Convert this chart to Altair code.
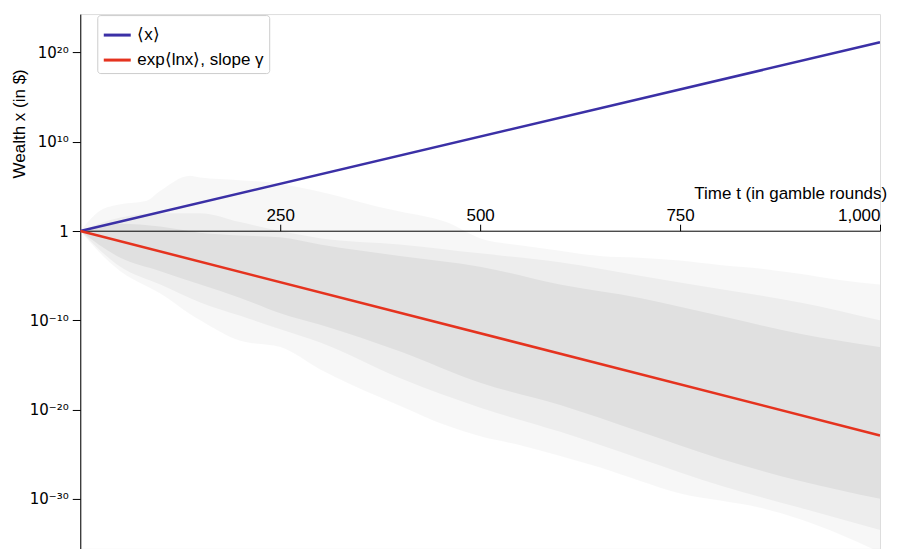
import altair as alt
import pandas as pd

# ---- values (log10 of wealth) ----
# expectation value <x> and time-average exp<ln x>
line_t = [0, 1000]
mean_log = [0.0, 21.15]
tavg_log = [0.0, -22.9]
series_names = ["⟨x⟩", "exp⟨lnx⟩, slope γ"]

# faint outer envelope of the simulated trajectories
outer_t = [0, 25, 50, 83, 100, 137, 150, 200, 250, 300, 374, 400, 458, 500,
           550, 600, 650, 700, 750, 800, 850, 900, 950, 1000]
outer_hi = [0, 2.3, 3.0, 3.4, 4.5, 6.2, 6.0, 5.7, 5.3, 4.4, 2.7, 2.2, 1.0, -0.8,
            -1.6, -2.2, -2.8, -3.0, -3.3, -3.8, -4.2, -4.8, -5.5, -6.0]
outer_lo = [0, -2.5, -4.5, -6.2, -7.0, -9.3, -10.0, -12.3, -13.0, -15.5, -18.6, -19.6, -21.8, -23.0,
            -24.0, -25.2, -26.5, -28.0, -29.4, -30.2, -31.0, -32.3, -34.0, -36.0]

# moderately dense part of the cloud
mid_t = [0, 50, 100, 150, 200, 250, 300, 400, 500, 600, 700, 800, 900, 1000]
mid_hi = [0, 1.5, 2.0, 2.0, 1.0, 0.0, -0.8, -1.5, -2.5, -3.5, -5.0, -6.5, -8.0, -10.0]
mid_lo = [0, -4.0, -6.0, -8.0, -9.5, -11.0, -12.5, -16.5, -19.8, -22.5, -25.5, -28.5, -31.0, -33.5]

# densest core of the cloud
core_t = [0, 50, 100, 150, 200, 250, 300, 400, 500, 600, 700, 800, 900, 1000]
core_hi = [0, 0.8, 0.5, -0.2, -0.5, -0.7, -1.5, -2.8, -4.0, -6.0, -7.5, -9.5, -11.5, -13.0]
core_lo = [0, -3.0, -4.5, -6.0, -7.5, -9.2, -10.5, -13.5, -17.0, -19.5, -22.5, -25.5, -28.0, -30.0]

x_ticks = [250, 500, 750, 1000]
y_ticks = [1e-30, 1e-20, 1e-10, 1, 1e10, 1e20]

# ---- tables ----
def band(ts, lo, hi):
    return pd.DataFrame({"t": ts, "lo": [10.0 ** v for v in lo], "hi": [10.0 ** v for v in hi]})

outer_df = band(outer_t, outer_lo, outer_hi)
mid_df = band(mid_t, mid_lo, mid_hi)
core_df = band(core_t, core_lo, core_hi)
lines_df = pd.DataFrame({
    "t": line_t + line_t,
    "w": [10.0 ** v for v in mean_log] + [10.0 ** v for v in tavg_log],
    "series": [series_names[0]] * 2 + [series_names[1]] * 2,
})

FONT = "Liberation Sans"
H = 535
PX_PER_DEC = 8.93
y_top = 24.3
y_bot = y_top - H / PX_PER_DEC

x_scale = alt.Scale(domain=[0, 1000], nice=False)
y_scale = alt.Scale(type="log", domain=[10 ** y_bot, 10 ** y_top], nice=False)

x_axis = alt.Axis(
    orient="top", offset=-216.7, values=x_ticks, format=",d",
    title="Time t (in gamble rounds)", titleFont=FONT, titleFontSize=17,
    titleFontWeight="normal", titleColor="black",
    titleAlign="right", titleAnchor="end", titleX=806.7, titleY=-32.7,
    titleBaseline="alphabetic",
    labelFont=FONT, labelFontSize=17, labelColor="black",
    labelBaseline="alphabetic", labelPadding=3.5,
    tickSize=6.5, tickColor="black", domainColor="black", grid=False,
)
y_axis = alt.Axis(
    values=y_ticks,
    labelExpr=("datum.value < 1e-25 ? '10⁻³⁰' : datum.value < 1e-15 ? '10⁻²⁰' : "
               "datum.value < 1e-5 ? '10⁻¹⁰' : datum.value < 1e5 ? '1' : "
               "datum.value < 1e15 ? '10¹⁰' : '10²⁰'"),
    title="Wealth x (in $)", titleFont=FONT, titleFontSize=17,
    titleFontWeight="normal", titleColor="black",
    titleX=-60.3, titleY=109.3, titleAngle=270, titleAlign="center",
    titleBaseline="middle",
    labelFont="DejaVu Sans", labelFontSize=15, labelColor="black", labelPadding=4,
    tickSize=8, tickColor="black", domainColor="black", grid=False,
)

def xenc():
    return alt.X("t:Q", scale=x_scale, axis=x_axis)

def area_layer(df, opacity):
    return alt.Chart(df).mark_area(color="black", opacity=opacity, clip=True,
                                   interpolate="monotone").encode(
        x=xenc(),
        y=alt.Y("lo:Q", scale=y_scale, axis=y_axis),
        y2="hi:Q",
    )

outer = area_layer(outer_df, 0.03)
mid = area_layer(mid_df, 0.04)
core = area_layer(core_df, 0.05)

lines = alt.Chart(lines_df).mark_line(strokeWidth=2.5, clip=True).encode(
    x=xenc(),
    y=alt.Y("w:Q", scale=y_scale, axis=y_axis),
    color=alt.Color(
        "series:N",
        scale=alt.Scale(domain=series_names, range=["#3b30a6", "#e5331f"]),
        legend=alt.Legend(
            title=None, orient="none", legendX=17, legendY=1,
            symbolType="stroke", symbolSize=729, symbolStrokeWidth=3,
            labelFont=FONT, labelFontSize=17, labelColor="black", labelOffset=5,
            rowPadding=2, padding=5, strokeColor="#cccccc", cornerRadius=3,
            fillColor="white",
        ),
    ),
)

chart = alt.layer(outer, mid, core, lines).properties(
    width=800, height=H,
    autosize=alt.AutoSizeParams(type="none"),
    padding={"left": 72.3, "top": 6, "right": 13, "bottom": 0},
).configure_view(stroke=None).configure(background="white")

chart.save("out.html", embed_options={"renderer": "svg", "actions": False})
